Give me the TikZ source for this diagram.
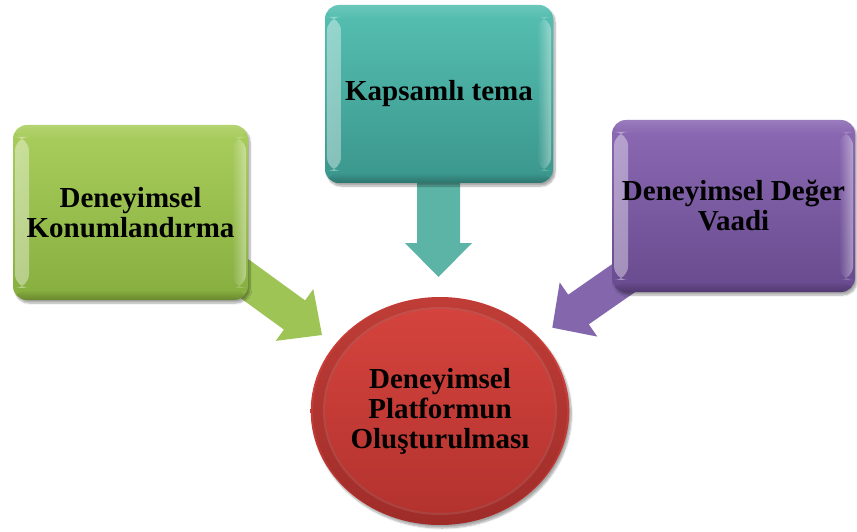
\documentclass[tikz,border=0pt]{standalone}
\usepackage{fontspec}
\setmainfont{Liberation Serif}
\usetikzlibrary{shapes.geometric,fadings,shadows.blur}
\definecolor{gTop}{RGB}{170,206,94}
\definecolor{gBot}{RGB}{134,174,62}
\definecolor{gArr}{RGB}{158,196,86}
\definecolor{tTop}{RGB}{86,192,178}
\definecolor{tBot}{RGB}{58,150,140}
\definecolor{tArr}{RGB}{92,180,166}
\definecolor{pTop}{RGB}{140,106,180}
\definecolor{pBot}{RGB}{104,74,142}
\definecolor{pArr}{RGB}{132,102,172}
\definecolor{rTop}{RGB}{214,68,62}
\definecolor{rBot}{RGB}{178,50,46}
\tikzset{
  lbl/.style={font=\fontsize{29}{30}\selectfont\bfseries, align=center, text=black, inner sep=2pt},
  softshadow/.style={blur shadow={shadow xshift=2pt,shadow yshift=-3pt,shadow blur steps=8,shadow opacity=35}},
  bevelbox/.style={rounded corners=14pt, draw=none, lbl, softshadow,
    path picture={
      \fill[white,opacity=0.4,path fading=east] ([xshift=2pt,yshift=-12pt]path picture bounding box.north west) rectangle ([xshift=16pt,yshift=12pt]path picture bounding box.south west);
      \fill[white,opacity=0.4,path fading=west] ([xshift=-2pt,yshift=-12pt]path picture bounding box.north east) rectangle ([xshift=-16pt,yshift=12pt]path picture bounding box.south east);
      \fill[white,opacity=0.12,path fading=south] (path picture bounding box.north west) rectangle ([yshift=-14pt]path picture bounding box.north east);
      \fill[black,opacity=0.22,path fading=north] (path picture bounding box.south west) rectangle ([yshift=10pt]path picture bounding box.south east);
    }},
  redball/.style={ellipse, draw=none, lbl, softshadow, top color=rTop, bottom color=rBot,
    path picture={
      \draw[white,opacity=0.12,line width=2pt] (path picture bounding box.center) ellipse [x radius=116pt, y radius=103pt];
      \fill[black,opacity=0.10,even odd rule] (path picture bounding box.center) ellipse [x radius=127pt, y radius=114pt] (path picture bounding box.center) ellipse [x radius=115pt, y radius=102pt];
    }},
  blockarrow/.style={draw=none}
}
\begin{document}
\begin{tikzpicture}[x=1pt,y=-1pt]
\useasboundingbox (0,0) rectangle (857,532);
% arrows (behind the shapes)
\fill[blockarrow, gArr] (240.4,253.4) -- (305.1,300.4) -- (313.3,289.1) -- (322,335) -- (275.7,340.9) -- (283.9,329.6) -- (219.2,282.6) -- cycle;
\fill[blockarrow, tArr] (417,175) -- (417,243) -- (405,243) -- (438.5,277) -- (472,243) -- (460,243) -- (460,175) -- cycle;
\fill[blockarrow, pArr] (633.8,249.1) -- (568.2,294.7) -- (559.7,282.4) -- (552.3,327.7) -- (597.3,336.6) -- (588.8,324.3) -- (654.4,278.7) -- cycle;
% boxes
\node[bevelbox, top color=gTop, bottom color=gBot, minimum width=235pt, minimum height=175pt] (g) at (130.5,212.5) {Deneyimsel\\Konumlandırma};
\node[bevelbox, top color=tTop, bottom color=tBot, minimum width=228pt, minimum height=178pt] (t) at (439,94) {Kapsamlı tema};
\node[bevelbox, top color=pTop, bottom color=pBot, minimum width=243pt, minimum height=172pt] (p) at (733.5,206) {Deneyimsel Değer\\Vaadi};
\node[redball, minimum width=254pt, minimum height=228pt] (c) at (440,411) {Deneyimsel\\Platformun\\Oluşturulması};
\end{tikzpicture}
\end{document}
